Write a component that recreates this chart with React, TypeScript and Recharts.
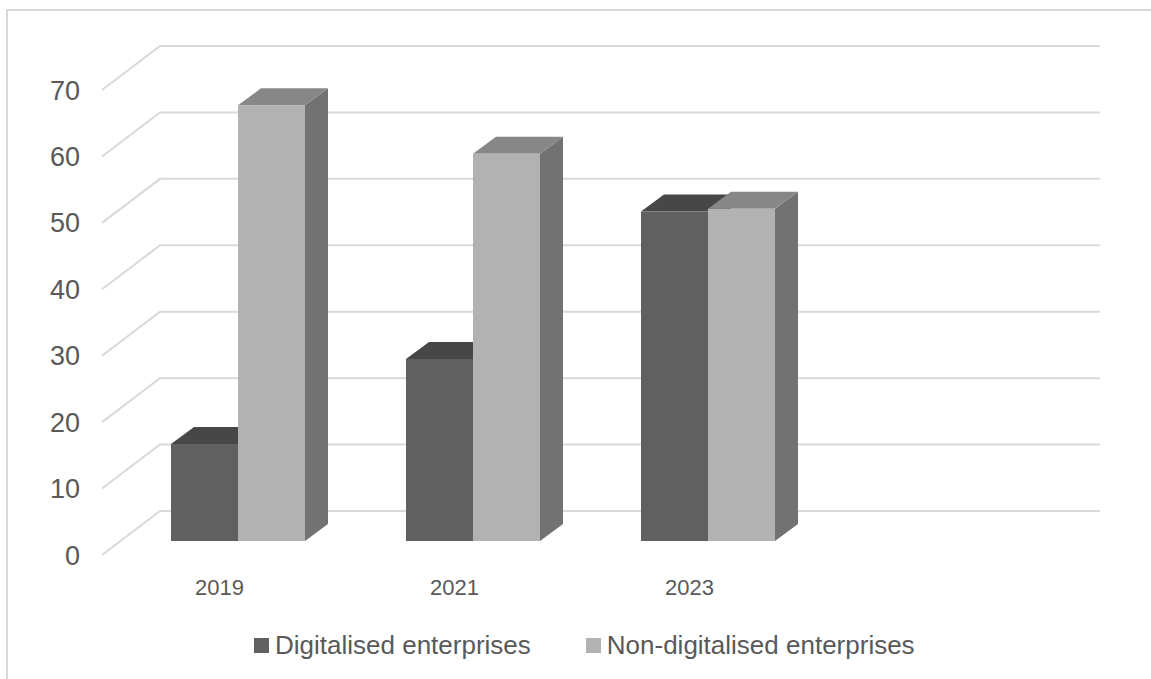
import { BarChart, Bar, XAxis, YAxis, CartesianGrid } from 'recharts';

const years = ['2019', '2021', '2023', ''];
const digitalised = [14.6, 27.4, 49.6, null];
const nonDigitalised = [65.6, 58.3, 50.0, null];
const yTicks = [0, 10, 20, 30, 40, 50, 60, 70];

const FONT = '"Liberation Sans", Arial, sans-serif';
const TEXT = '#595959';
const GRID = '#d9d9d9';

// depth of the floor (back wall offset) and of the bars
const WALL = { dx: 58, dy: -44 };
const BAR_POS = { dx: 18, dy: -14 };
const BAR_DEPTH = { dx: 23, dy: -17 };

const data = years.map((y, i) => ({
  year: y,
  dig: digitalised[i],
  non: nonDigitalised[i],
}));

function gridLine(props: any) {
  const { x1, x2, y1, index } = props;
  const d = `M${x1},${y1} L${x1 + WALL.dx},${y1 + WALL.dy} L${x2 + WALL.dx},${y1 + WALL.dy}`;
  return <path key={`g-${index}`} d={d} stroke={GRID} strokeWidth={2} fill="none" />;
}

function makeBox(front: string, top: string, side: string) {
  return (props: any) => {
    const { x, y, width, height, value } = props;
    if (value == null || (Array.isArray(value) && value[1] == null) || !height) return <g />;
    const fx = x + BAR_POS.dx;
    const fy = y + BAR_POS.dy;
    const bx = BAR_DEPTH.dx;
    const by = BAR_DEPTH.dy;
    const topPts = `${fx},${fy} ${fx + width},${fy} ${fx + width + bx},${fy + by} ${fx + bx},${fy + by}`;
    const sidePts = `${fx + width},${fy} ${fx + width + bx},${fy + by} ${fx + width + bx},${fy + height + by} ${fx + width},${fy + height}`;
    return (
      <g>
        <polygon points={sidePts} fill={side} />
        <polygon points={topPts} fill={top} />
        <rect x={fx} y={fy} width={width} height={height} fill={front} />
      </g>
    );
  };
}

const legendItems = [
  { label: 'Digitalised enterprises', color: '#606060' },
  { label: 'Non-digitalised enterprises', color: '#b2b2b2' },
];

export default function App() {
  return (
    <div style={{ position: 'absolute', left: 0, top: 0, width: 1151, height: 679, background: '#fff', fontFamily: FONT, overflow: 'hidden' }}>
      {/* chart frame, only left and top edges are in view */}
      <div style={{ position: 'absolute', left: 6, top: 9, width: 1200, height: 700, borderLeft: `2px solid ${GRID}`, borderTop: `2px solid ${GRID}` }} />
      <div style={{ position: 'absolute', left: 0, top: 0 }}>
        <BarChart
          width={1151}
          height={679}
          data={data}
          margin={{ top: 90, right: 109, bottom: 0, left: 0 }}
          barSize={67}
          barGap={0}
        >
          <CartesianGrid horizontal={gridLine} vertical={false} />
          <XAxis
            dataKey="year"
            height={124}
            axisLine={false}
            tickLine={false}
            tickSize={0}
            tickMargin={24}
            interval={0}
            tick={{ fill: TEXT, fontSize: 22, fontFamily: FONT }}
          />
          <YAxis
            width={102}
            domain={[0, 70]}
            ticks={yTicks}
            axisLine={false}
            tickLine={false}
            tickSize={0}
            tickMargin={22}
            tick={{ fill: TEXT, fontSize: 27, fontFamily: FONT }}
          />
          <Bar dataKey="dig" name="Digitalised enterprises" fill="#606060" isAnimationActive={false}
            shape={makeBox('#606060', '#474747', '#505050')} />
          <Bar dataKey="non" name="Non-digitalised enterprises" fill="#b2b2b2" isAnimationActive={false}
            shape={makeBox('#b2b2b2', '#878787', '#727272')} />
        </BarChart>
      </div>
      <div style={{ position: 'absolute', left: 254, top: 627, height: 36, display: 'flex', alignItems: 'center', gap: 55 }}>
        {legendItems.map((it) => (
          <div key={it.label} style={{ display: 'flex', alignItems: 'center' }}>
            <span style={{ display: 'inline-block', width: 15, height: 15, background: it.color, marginRight: 6 }} />
            <span style={{ fontSize: 26, color: TEXT, lineHeight: '36px' }}>{it.label}</span>
          </div>
        ))}
      </div>
    </div>
  );
}
